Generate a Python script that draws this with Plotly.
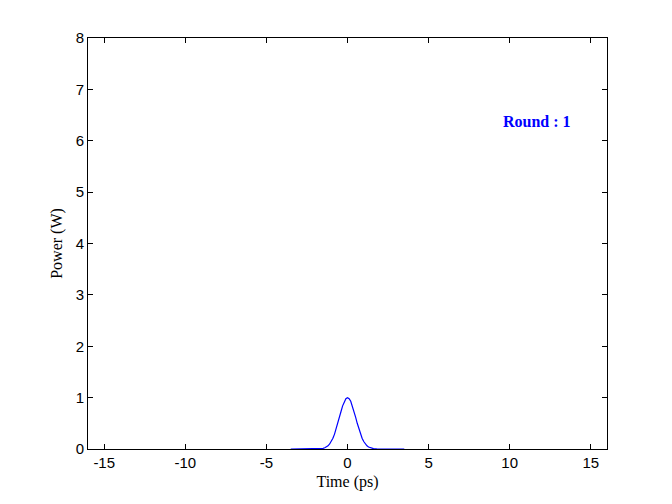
import plotly.graph_objects as go

# pulse (time in ps, power in W)
time_ps = [-3.5, -2.0, -1.8, -1.6, -1.5, -1.4, -1.3, -1.2, -1.1, -1.0, -0.9, -0.8,
           -0.7, -0.6, -0.5, -0.4, -0.3, -0.2, -0.1, 0.0, 0.1, 0.2, 0.3, 0.4,
           0.5, 0.6, 0.7, 0.8, 0.9, 1.0, 1.1, 1.2, 1.3, 1.4, 1.5, 1.6, 1.8, 2.0, 3.5]
power_w = [0.0, 0.0, 0.002, 0.007, 0.013, 0.023, 0.038, 0.062, 0.097, 0.145, 0.21, 0.29,
           0.39, 0.50, 0.62, 0.73, 0.84, 0.93, 0.98, 1.0, 0.98, 0.93, 0.84, 0.73,
           0.62, 0.50, 0.39, 0.29, 0.21, 0.145, 0.097, 0.062, 0.038, 0.023, 0.013, 0.007, 0.002, 0.0, 0.0]

x_ticks = [-15, -10, -5, 0, 5, 10, 15]
x_tick_text = ["-15", "-10", "-5", "0", "5", "10", "15"]
y_ticks = [0, 1, 2, 3, 4, 5, 6, 7, 8]
round_label = "Round : 1"

fig = go.Figure()
fig.add_trace(go.Scatter(x=time_ps, y=power_w, mode="lines",
                         line=dict(color="#0000ff", width=1.2),
                         showlegend=False, hoverinfo="x+y"))

# the round counter in the upper right
fig.add_annotation(x=11.7, y=6.37, text="<b>" + round_label + "</b>", showarrow=False,
                   font=dict(family="Liberation Serif", size=16, color="#0000ff"))

axis_style = dict(showline=True, linecolor="black", linewidth=1, mirror="ticks",
                  ticks="inside", ticklen=5, tickcolor="black", showgrid=False,
                  zeroline=False, tickfont=dict(family="Liberation Sans", size=15, color="black"))

fig.update_xaxes(range=[-16, 16], tickvals=x_ticks, ticktext=x_tick_text,
                 title=dict(text="Time (ps)", standoff=5,
                            font=dict(family="Liberation Serif", size=16, color="black")),
                 **axis_style)
fig.update_yaxes(range=[0, 8], tickvals=y_ticks,
                 title=dict(text="Power (W)", standoff=9,
                            font=dict(family="Liberation Serif", size=16, color="black")),
                 **axis_style)

fig.update_layout(width=672, height=504, plot_bgcolor="white", paper_bgcolor="white",
                  margin=dict(l=80, r=73, t=30, b=63))

fig.write_html("out.html")
